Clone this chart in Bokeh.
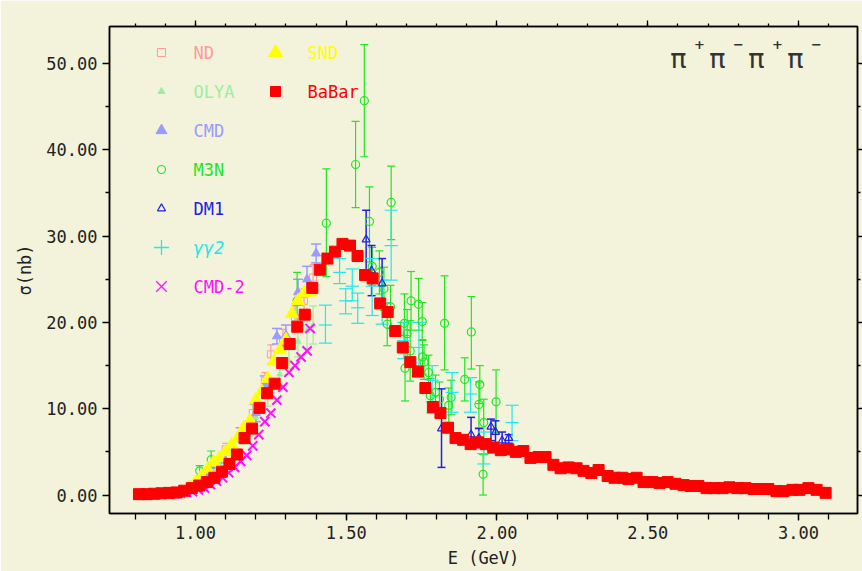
from bokeh.plotting import figure
from bokeh.models import (Range1d, LinearAxis, FixedTicker, NumeralTickFormatter,
                          ColumnDataSource, Whisker, TeeHead)
from bokeh.core.properties import value
from bokeh.embed import file_html
from bokeh.resources import INLINE

# ---------------- data ----------------
babar_E = [0.8125, 0.8375, 0.8625, 0.8875, 0.9125, 0.9375, 0.9625, 0.9875, 1.0125, 1.0375,
           1.0625, 1.0875, 1.1125, 1.1375, 1.1625, 1.1875, 1.2125, 1.2375, 1.2625, 1.2875,
           1.3125, 1.3375, 1.3625, 1.3875, 1.4125, 1.4375, 1.4625, 1.4875, 1.5125, 1.5375,
           1.5625, 1.5875, 1.6125, 1.6375, 1.6625, 1.6875, 1.7125, 1.7375, 1.7625, 1.7875,
           1.8125, 1.8375, 1.8625, 1.8875, 1.9125, 1.9375, 1.9625, 1.9875, 2.0125, 2.0375,
           2.0625, 2.0875, 2.111, 2.138, 2.161, 2.187, 2.211, 2.237, 2.264, 2.287,
           2.313, 2.337, 2.367, 2.390, 2.416, 2.436, 2.463, 2.486, 2.516, 2.539,
           2.566, 2.592, 2.619, 2.642, 2.668, 2.695, 2.721, 2.748, 2.771, 2.798,
           2.824, 2.851, 2.874, 2.900, 2.927, 2.950, 2.980, 3.003, 3.033, 3.060, 3.090]
babar_s = [0.1, 0.1, 0.15, 0.2, 0.25, 0.3, 0.5, 0.8, 1.1, 1.5,
           2.0, 2.7, 3.6, 4.7, 6.6, 7.7, 10.1, 11.8, 12.9, 15.3,
           17.5, 19.5, 20.9, 24.0, 26.1, 27.4, 28.2, 29.1, 28.9, 27.7,
           25.5, 25.1, 22.2, 21.2, 19.0, 17.1, 15.4, 14.3, 12.4, 10.2,
           9.5, 7.8, 6.6, 6.4, 5.9, 6.1, 5.9, 5.5, 5.2, 5.3,
           5.0, 5.1, 4.3, 4.4, 4.4, 3.5, 3.1, 3.2, 3.1, 2.8,
           2.55, 2.9, 2.2, 2.0, 2.0, 1.85, 2.0, 1.5, 1.5, 1.4,
           1.5, 1.3, 1.15, 1.05, 1.05, 0.8, 0.8, 0.8, 0.9, 0.8,
           0.8, 0.7, 0.7, 0.7, 0.45, 0.45, 0.6, 0.6, 0.8, 0.6, 0.25]

snd_E = [0.98, 1.00, 1.02, 1.04, 1.06, 1.08, 1.10, 1.12, 1.14, 1.16, 1.18,
         1.20, 1.22, 1.24, 1.26, 1.28, 1.30, 1.32, 1.34, 1.36, 1.38]
snd_s = [0.9, 1.5, 2.2, 3.0, 3.8, 4.3, 5.0, 5.8, 6.6, 7.8, 8.6,
         11.0, 12.0, 13.5, 15.5, 16.8, 18.0, 21.0, 22.5, 23.4, 23.5]

cmd2_E = [0.81, 0.83, 0.85, 0.87, 0.89, 0.91, 0.93, 0.95, 0.97, 0.99, 1.01, 1.03, 1.05,
          1.07, 1.09, 1.11, 1.13, 1.15, 1.17, 1.19, 1.21, 1.23, 1.25, 1.27, 1.29, 1.31,
          1.33, 1.35, 1.37, 1.38]
cmd2_s = [0.05, 0.05, 0.05, 0.1, 0.1, 0.1, 0.15, 0.2, 0.3, 0.4, 0.6, 0.8, 1.2,
          1.6, 2.0, 2.6, 3.2, 3.9, 4.6, 5.7, 7.0, 8.5, 9.5, 11.0, 12.5, 14.2,
          15.0, 16.0, 16.7, 19.3]

nd_E = [1.02, 1.06, 1.10, 1.15, 1.19, 1.23, 1.25, 1.29, 1.33, 1.36, 1.39]
nd_s = [1.8, 3.2, 5.3, 7.0, 9.5, 13.2, 16.3, 18.0, 20.6, 22.5, 25.2]
nd_err = [0.4, 0.6, 0.7, 0.8, 1.0, 1.0, 1.1, 1.2, 1.3, 1.4, 1.5]

olya_E = [1.00, 1.04, 1.08, 1.12, 1.16, 1.20, 1.24, 1.28, 1.31, 1.34, 1.37, 1.39]
olya_s = [1.2, 2.3, 3.5, 4.8, 6.8, 9.0, 11.5, 14.0, 15.5, 17.8, 19.0, 19.7]
olya_err = [0.4, 0.5, 0.6, 0.7, 0.9, 1.0, 1.2, 1.3, 1.5, 1.8, 2.0, 2.2]

cmd_E = [1.05, 1.10, 1.15, 1.20, 1.23, 1.27, 1.30, 1.34, 1.37, 1.40]
cmd_s = [2.6, 4.0, 7.0, 9.5, 12.8, 18.4, 18.5, 23.5, 25.0, 28.0]
cmd_err = [0.5, 0.6, 0.8, 1.0, 1.0, 0.9, 1.2, 1.5, 1.5, 1.1]

m3n_E = [1.014, 1.052, 1.337, 1.434, 1.531, 1.560, 1.577, 1.586, 1.610, 1.625, 1.636, 1.647,
         1.649, 1.693, 1.695, 1.702, 1.712, 1.715, 1.740, 1.752, 1.753, 1.758, 1.773, 1.779,
         1.796, 1.809, 1.826, 1.840, 1.848, 1.893, 1.915, 1.940, 1.943, 1.954, 1.956, 1.997]
m3n_s = [2.8, 4.1, 22.5, 31.5, 38.3, 45.7, 31.7, 26.5, 25.8, 23.9, 19.8, 21.8,
         33.9, 19.9, 14.7, 18.7, 16.7, 22.5, 22.1, 20.1, 16.0, 15.4, 14.2, 11.5,
         11.9, 11.1, 19.9, 10.4, 11.3, 13.4, 18.9, 10.5, 12.8, 2.4, 8.4, 10.8]
m3n_elo = [0.6, 0.9, 3.3, 6.2, 5.0, 6.5, 4.7, 2.2, 2.5, 2.5, 2.5, 2.5,
           4.3, 3.4, 3.8, 2.8, 3.5, 3.4, 3.0, 2.2, 2.0, 2.0, 2.0, 2.0,
           2.0, 2.0, 5.4, 2.0, 2.0, 2.5, 4.3, 2.7, 2.2, 2.4, 3.7, 3.6]
m3n_ehi = [0.6, 1.0, 3.3, 6.3, 5.0, 6.5, 4.0, 2.2, 2.5, 2.5, 2.5, 2.5,
           4.2, 3.4, 3.8, 2.8, 3.5, 3.4, 3.0, 2.2, 2.0, 2.0, 2.0, 2.0,
           2.0, 2.0, 5.5, 2.0, 2.0, 2.5, 4.1, 2.6, 2.2, 2.3, 2.7, 3.7]

dm1_E = [1.566, 1.584, 1.619, 1.816, 1.914, 1.940, 1.980, 1.995, 2.017, 2.039]
dm1_s = [29.6, 26.0, 24.5, 7.7, 7.0, 6.6, 7.9, 7.3, 6.3, 6.6]
dm1_elo = [3.5, 2.9, 2.3, 4.5, 1.5, 1.1, 1.6, 1.3, 1.0, 0.6]
dm1_ehi = [3.4, 2.9, 2.9, 4.6, 2.0, 1.1, 0.9, 1.3, 1.0, 0.4]

gg2_E = [1.431, 1.478, 1.498, 1.520, 1.538, 1.586, 1.619, 1.649, 1.691, 1.741,
         1.785, 1.851, 1.912, 1.956, 2.050]
gg2_s = [19.7, 25.8, 22.5, 24.2, 21.7, 24.2, 22.3, 28.9, 17.9, 17.1,
         13.3, 11.9, 11.7, 4.8, 8.4]
gg2_elo = [2.1, 1.3, 1.5, 1.7, 1.8, 3.4, 2.5, 4.0, 2.1, 2.1, 2.5, 2.3, 2.1, 1.2, 2.1]
gg2_ehi = [2.3, 1.6, 1.4, 2.0, 1.7, 3.2, 2.6, 4.1, 2.1, 2.9, 1.7, 2.3, 1.9, 2.5, 2.0]
gg2_xerr = [0.022] * 15

legend_col1 = ["ND", "OLYA", "CMD", "M3N", "DM1", "\u03b3\u03b32", "CMD-2"]
legend_col2 = ["SND", "BaBar"]

x_major = [1.0, 1.5, 2.0, 2.5, 3.0]
x_minor = [0.8, 0.9, 1.0, 1.1, 1.2, 1.3, 1.4, 1.5, 1.6, 1.7, 1.8, 1.9, 2.0, 2.1, 2.2,
           2.3, 2.4, 2.5, 2.6, 2.7, 2.8, 2.9, 3.0, 3.1]
y_major = [0, 10, 20, 30, 40, 50]
y_minor = [5, 15, 25, 35, 45]

# ---------------- layout / style ----------------
W, H = 862, 571
FL, FR, FT, FB = 109, 857, 26, 513
X0, X1 = 0.7148, 3.1957
Y0, Y1 = -2.14, 54.29
BG = "#f3f3dc"
FONT = "DejaVu Sans Mono"

C_ND, C_OLYA, C_CMD = "#ff9a9a", "#9cee9c", "#9a9aff"
C_M3N, C_DM1, C_GG2 = "#22e622", "#2020e6", "#22e8e8"
C_CMD2, C_SND, C_BABAR = "#ff10ff", "#ffff00", "#ff0000"


def dx(px):
    return X0 + (px - FL) * (X1 - X0) / (FR - FL)


def dy(py):
    return Y1 - (py - FT) * (Y1 - Y0) / (FB - FT)


p = figure(width=W, height=H, x_range=Range1d(X0, X1), y_range=Range1d(Y0, Y1),
           output_backend="svg", toolbar_location=None,
           x_axis_location=None, y_axis_location=None,
           min_border_left=FL, min_border_right=W - FR,
           min_border_top=FT, min_border_bottom=H - FB)
p.background_fill_color = BG
p.border_fill_color = BG
p.outline_line_color = "black"
p.outline_line_width = 1.5
p.xgrid.visible = False
p.ygrid.visible = False


def style_axis(ax, major_out, minor_out, labels=True):
    ax.axis_line_color = "black"
    ax.axis_line_width = 1.5
    ax.major_tick_line_color = "black"
    ax.minor_tick_line_color = "black"
    ax.major_tick_line_width = 1.3
    ax.minor_tick_line_width = 1.3
    ax.major_tick_in = 0
    ax.minor_tick_in = 0
    ax.major_tick_out = major_out
    ax.minor_tick_out = minor_out
    if labels:
        ax.major_label_text_font = FONT
        ax.major_label_text_font_size = "17px"
        ax.major_label_text_color = "#222222"
        ax.major_label_standoff = 5
        ax.axis_label_text_font = FONT
        ax.axis_label_text_font_size = "17px"
        ax.axis_label_text_font_style = "normal"
        ax.axis_label_text_color = "#222222"
        ax.axis_label_standoff = 8
    else:
        # tick marks only: labels are not painted
        ax.major_label_text_font_size = "1px"
        ax.major_label_text_color = None
        ax.major_label_standoff = 0


xt = FixedTicker(ticks=x_major, minor_ticks=x_minor)
yt = FixedTicker(ticks=y_major, minor_ticks=y_minor)

bottom = LinearAxis(ticker=xt, formatter=NumeralTickFormatter(format="0.00"), axis_label="E (GeV)")
style_axis(bottom, 7, 6)
bottom.axis_label_standoff = 6
p.add_layout(bottom, "below")
left = LinearAxis(ticker=yt, formatter=NumeralTickFormatter(format="0.00"), axis_label="\u03c3(nb)")
style_axis(left, 7, 4)
p.add_layout(left, "left")
top = LinearAxis(ticker=FixedTicker(ticks=x_major, minor_ticks=x_minor))
style_axis(top, 6, 3, labels=False)
p.add_layout(top, "above")
right = LinearAxis(ticker=FixedTicker(ticks=y_major, minor_ticks=y_minor))
style_axis(right, 5, 3, labels=False)
p.add_layout(right, "right")


def errbars(E, s, elo, ehi, color, cap, lw=1.2):
    lo = [a - b for a, b in zip(s, elo)]
    hi = [a + b for a, b in zip(s, ehi)]
    src = ColumnDataSource(dict(base=E, lower=lo, upper=hi))
    w = Whisker(source=src, base="base", lower="lower", upper="upper",
                line_color=color, line_width=lw,
                upper_head=TeeHead(size=cap, line_color=color, line_width=lw),
                lower_head=TeeHead(size=cap, line_color=color, line_width=lw))
    p.add_layout(w)


# error bars
errbars(nd_E, nd_s, nd_err, nd_err, C_ND, 7)
errbars(olya_E, olya_s, olya_err, olya_err, C_OLYA, 8)
errbars(cmd_E, cmd_s, cmd_err, cmd_err, C_CMD, 10, 1.5)
errbars(m3n_E, m3n_s, m3n_elo, m3n_ehi, C_M3N, 8)
errbars(dm1_E, dm1_s, dm1_elo, dm1_ehi, C_DM1, 8, 1.5)
errbars(gg2_E, gg2_s, gg2_elo, gg2_ehi, C_GG2, 13)

# markers
p.scatter(nd_E, nd_s, marker="square", size=7, fill_color=None, line_color=C_ND, line_width=1)
p.scatter(olya_E, olya_s, marker="triangle", size=6, fill_color=C_OLYA, line_color=C_OLYA)
p.scatter(cmd_E, cmd_s, marker="triangle", size=9, fill_color=C_CMD, line_color=C_CMD)
p.scatter(m3n_E, m3n_s, marker="circle", size=8, fill_color=None, line_color=C_M3N, line_width=1.2)
p.scatter(dm1_E, dm1_s, marker="triangle", size=8, fill_color=None, line_color=C_DM1, line_width=1.2)
p.segment(x0=[e - d for e, d in zip(gg2_E, gg2_xerr)], y0=gg2_s,
          x1=[e + d for e, d in zip(gg2_E, gg2_xerr)], y1=gg2_s,
          line_color=C_GG2, line_width=1.2)
p.scatter(cmd2_E, cmd2_s, marker="x", size=13, line_color=C_CMD2, line_width=2)
p.scatter(snd_E, snd_s, marker="triangle", size=13, fill_color=C_SND, line_color=C_SND)
p.scatter(babar_E, babar_s, marker="square", size=11, fill_color=C_BABAR, line_color=C_BABAR)

# legend (drawn by hand: two columns, coloured texts)
rows_px = [52, 91, 130, 169, 208, 247, 286]
col1_mark, col1_text = dx(161), dx(193)
col2_mark, col2_text = dx(275), dx(307)
ry = [dy(r) for r in rows_px]

p.scatter([col1_mark], [ry[0]], marker="square", size=8, fill_color=None, line_color=C_ND, line_width=1)
p.scatter([col1_mark], [ry[1]], marker="triangle", size=7, fill_color=C_OLYA, line_color=C_OLYA)
p.scatter([col1_mark], [ry[2]], marker="triangle", size=11, fill_color=C_CMD, line_color=C_CMD)
p.scatter([col1_mark], [ry[3]], marker="circle", size=8, fill_color=None, line_color=C_M3N, line_width=1.2)
p.scatter([col1_mark], [ry[4]], marker="triangle", size=8, fill_color=None, line_color=C_DM1, line_width=1.2)
p.scatter([col1_mark], [ry[5]], marker="cross", size=15, line_color=C_GG2, line_width=1.3)
p.scatter([col1_mark], [ry[6]], marker="x", size=15, line_color=C_CMD2, line_width=1.3)
p.scatter([col2_mark], [ry[0]], marker="triangle", size=14, fill_color=C_SND, line_color=C_SND)
p.scatter([col2_mark], [ry[1]], marker="square", size=10, fill_color=C_BABAR, line_color=C_BABAR)

col1_colors = [C_ND, C_OLYA, C_CMD, C_M3N, C_DM1, C_GG2, C_CMD2]
for i, (lab, col) in enumerate(zip(legend_col1, col1_colors)):
    p.text([col1_text], [ry[i]], text=[lab], text_color=col, text_font=value(FONT),
           text_font_size="17px", text_baseline="middle", text_align="left",
           text_font_style="italic" if i == 5 else "normal")
for i, (lab, col) in enumerate(zip(legend_col2, [C_SND, C_BABAR])):
    p.text([col2_text], [ry[i]], text=[lab], text_color=col, text_font=value(FONT),
           text_font_size="17px", text_baseline="middle", text_align="left")

# reaction label  pi+ pi- pi+ pi-
pi_px = [678, 717, 756, 795]
sup_px = [699, 738, 777, 816]
sups = ["+", "\u2212", "+", "\u2212"]
p.text([dx(x) for x in pi_px], [dy(58)] * 4, text=["\u03c0"] * 4, text_color="#333333",
       text_font=value("DejaVu Sans"), text_font_size="27px", text_baseline="middle",
       text_align="center")
p.text([dx(x) for x in sup_px], [dy(44)] * 4, text=sups, text_color="#333333",
       text_font=value("DejaVu Sans"), text_font_size="13px", text_baseline="middle",
       text_align="center", text_font_style="bold")

open("out.html", "w").write(file_html(p, INLINE))
